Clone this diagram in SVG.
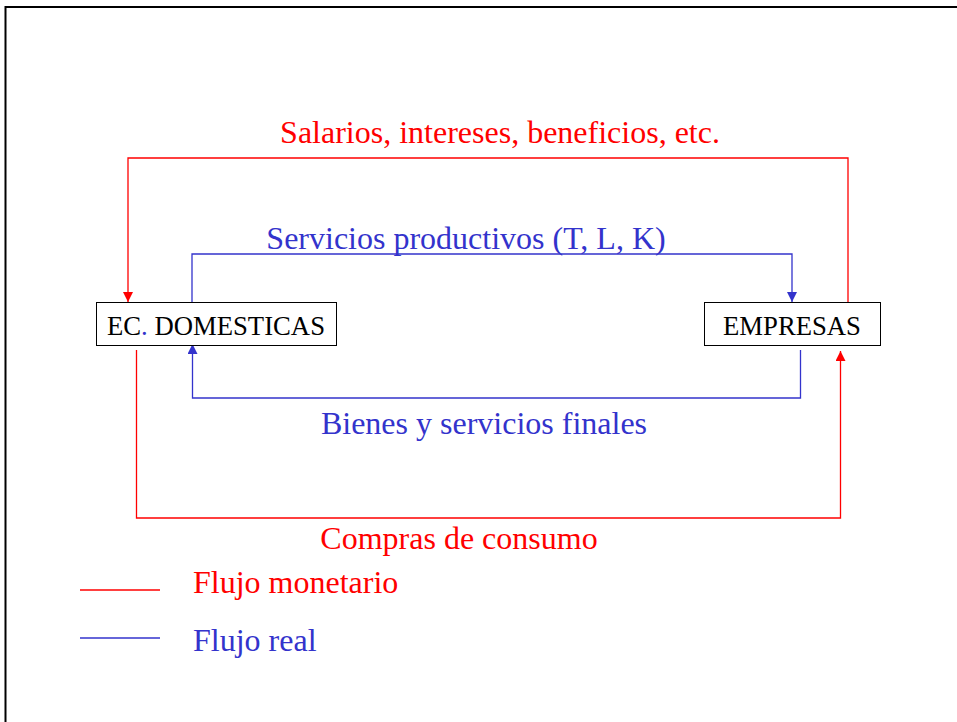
<svg xmlns="http://www.w3.org/2000/svg" width="957" height="722" viewBox="0 0 957 722">
<defs>
<marker id="ar" markerWidth="10" markerHeight="10" refX="10" refY="5" orient="auto" markerUnits="userSpaceOnUse"><path d="M0,0 L10,5 L0,10 z" fill="#FF0000"/></marker>
<marker id="ab" markerWidth="10" markerHeight="10" refX="10" refY="5" orient="auto" markerUnits="userSpaceOnUse"><path d="M0,0 L10,5 L0,10 z" fill="#3333CC"/></marker>
</defs>
<style>
text{font-family:"Liberation Serif","Times New Roman",serif;}
.big{font-size:32px;}
.red{fill:#FF0000;}
.blue{fill:#3333CC;}
.box{fill:#fff;stroke:#000;stroke-width:1;}
.lbl{font-size:26.7px;fill:#000;}
.r{fill:none;stroke:#FF0000;stroke-width:1.3;}
.b{fill:none;stroke:#3333CC;stroke-width:1.3;}
</style>
<rect width="957" height="722" fill="#fff"/>
<path d="M5.5,722 V7 H957" fill="none" stroke="#000" stroke-width="2"/>
<g id="connectors">
<path class="r" d="M848,302 V158 H128 V302" marker-end="url(#ar)"/>
<path class="b" d="M192,302 V254 H792 V302" marker-end="url(#ab)"/>
<path class="b" d="M800.5,350 V398 H192.5 V344" marker-end="url(#ab)"/>
<path class="r" d="M136.5,350 V518 H840.5 V351" marker-end="url(#ar)"/>
</g>
<g id="ec-domesticas">
<rect class="box" x="96.5" y="302.5" width="240" height="43"/>
<text class="lbl" x="107" y="335">EC<tspan class="blue">.</tspan> DOMESTICAS</text>
</g>
<g id="empresas">
<rect class="box" x="704.5" y="302.5" width="176" height="43"/>
<text class="lbl" x="792" y="335" text-anchor="middle">EMPRESAS</text>
</g>
<g id="labels">
<text class="big red" x="500" y="143" text-anchor="middle">Salarios, intereses, beneficios, etc.</text>
<text class="big blue" x="466" y="249" text-anchor="middle">Servicios productivos (T, L, K)</text>
<text class="big blue" x="484" y="434" text-anchor="middle">Bienes y servicios finales</text>
<text class="big red" x="459" y="549" text-anchor="middle">Compras de consumo</text>
</g>
<g id="legend">
<line x1="80" y1="590" x2="160" y2="590" stroke="#FF0000" stroke-width="1.3"/>
<text class="big red" x="193" y="593">Flujo monetario</text>
<line x1="80" y1="638" x2="160" y2="638" stroke="#3333CC" stroke-width="1.3"/>
<text class="big blue" x="193" y="651">Flujo real</text>
</g>
</svg>
